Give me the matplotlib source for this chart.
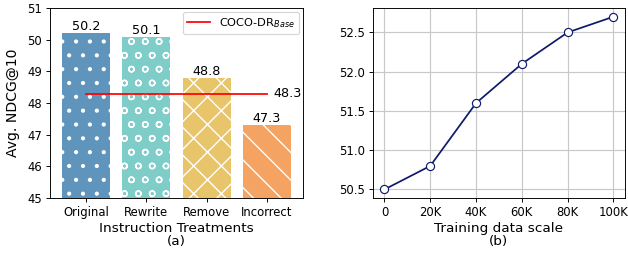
import matplotlib.pyplot as plt

# panel (a)
treatments = ["Original", "Rewrite", "Remove", "Incorrect"]
ndcg = [50.2, 50.1, 48.8, 47.3]
bar_colors = ["#5f95bd", "#7fcdc9", "#e8c46b", "#f4a362"]
hatches = [".", "o", "x", "\\"]
baseline = 48.3

# panel (b)
scale_labels = ["0", "20K", "40K", "60K", "80K", "100K"]
scale_x = [0, 20, 40, 60, 80, 100]
scale_ndcg = [50.5, 50.8, 51.6, 52.1, 52.5, 52.7]

plt.rcParams['hatch.color'] = 'white'
plt.rcParams['hatch.linewidth'] = 1.2

W = 7.5
fig = plt.figure(figsize=(W, W * 253 / 628), dpi=628 / W)

ax1 = fig.add_axes([0.08, 0.217, 0.402, 0.751])
bars = ax1.bar(treatments, ndcg, width=0.8, color=bar_colors, edgecolor='white',
               linewidth=0)
for b, h in zip(bars, hatches):
    b.set_hatch(h)
for i, v in enumerate(ndcg):
    ax1.text(i, v, f"{v}", ha='center', va='bottom', fontsize=11)
ax1.plot([0, 3], [baseline, baseline], color='red', linewidth=1.5,
         label=r"COCO-DR$_{Base}$")
ax1.text(3.1, baseline, f"{baseline}", ha='left', va='center', fontsize=11)
ax1.set_ylim(45, 51)
ax1.set_ylabel("Avg. NDCG@10", fontsize=12, labelpad=6)
ax1.set_xlabel("Instruction Treatments\n(a)", fontsize=11.7, linespacing=1.0,
               labelpad=2)
ax1.tick_params(labelsize=10)
ax1.legend(loc='upper right', fontsize=9.8, borderaxespad=0.3)

ax2 = fig.add_axes([0.594, 0.217, 0.401, 0.751])
ax2.plot(scale_x, scale_ndcg, color='#101a6a', linewidth=1.5, marker='o',
         markersize=7, markerfacecolor='white', markeredgecolor='#101a6a')
ax2.set_xticks(scale_x)
ax2.set_xticklabels(scale_labels)
ax2.set_yticks([50.5, 51.0, 51.5, 52.0, 52.5])
ax2.grid(True, color='#c8c8c8', linewidth=1)
ax2.set_axisbelow(True)
ax2.set_xlabel("Training data scale\n(b)", fontsize=11.7, linespacing=1.0,
               labelpad=2)
ax2.tick_params(labelsize=10)

fig.savefig("out.png")
